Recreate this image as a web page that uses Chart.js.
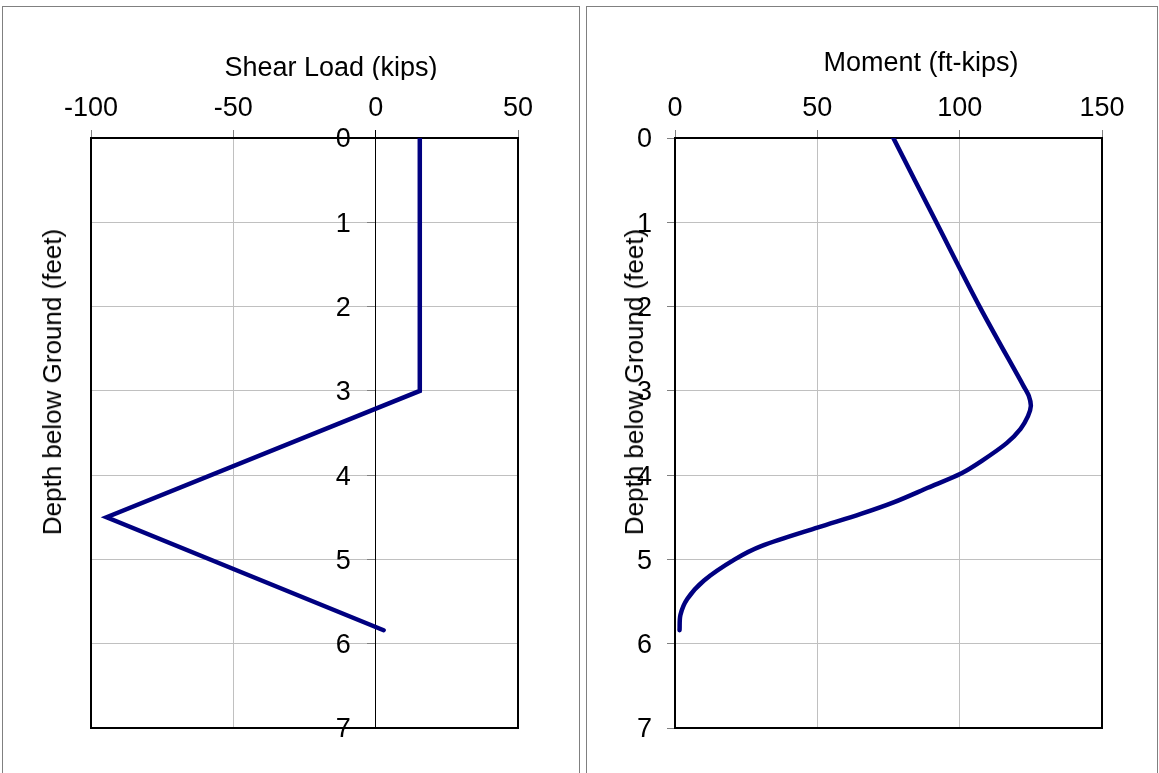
<!DOCTYPE html>
<html>
<head>
<meta charset="utf-8">
<title>Shear and moment versus depth</title>
<script src="https://cdn.jsdelivr.net/npm/chart.js@4.4.1/dist/chart.umd.min.js"></script>
<style>
  html, body { margin: 0; padding: 0; background: #fff; }
  body { width: 1159px; height: 773px; position: relative; overflow: hidden;
         font-family: 'Liberation Sans', Arial, Helvetica, sans-serif; }
  .panel { position: absolute; top: 6px; height: 800px; box-sizing: border-box;
           border: 1px solid #808080; border-bottom: none; }
  .chart-box { position: absolute; top: 0; height: 773px; }
  .cap { position: absolute; font-size: 27px; line-height: 27px; white-space: nowrap; color: #000; }
  .cap.h { text-align: center; overflow: hidden; }
  .cap.v { font-size: 26px; line-height: 26px; transform: translate(-50%, -50%) rotate(-90deg); }
</style>
</head>
<body>
<div class="panel" style="left:2px;width:578px"></div>
<div class="panel" style="left:586px;width:572px"></div>

<div class="chart-box" style="left:0;width:580px"><canvas id="shearChart"></canvas></div>
<div class="chart-box" style="left:580px;width:579px"><canvas id="momentChart"></canvas></div>

<div class="cap h" style="left:191px;top:54px;width:280px;height:26px">Shear Load (kips)</div>
<div class="cap v" style="left:52px;top:382px">Depth below Ground (feet)</div>
<div class="cap h" style="left:781px;top:49px;width:280px;height:30px">Moment (ft-kips)</div>
<div class="cap v" style="left:634px;top:382px">Depth below Ground (feet)</div>

<script>
// Depth axis (feet below ground), shared by both profiles
const depthTicks = [0, 1, 2, 3, 4, 5, 6, 7];

// Shear load profile
const shearTicks = [-100, -50, 0, 50];
const shearDepth = [0, 3.0, 4.5, 5.84];
const shearLoad  = [15.5, 15.5, -94.5, 2.8];

// Bending moment profile
const momentTicks = [0, 50, 100, 150];
const momentDepth = [0, 1, 2, 2.94, 3.06, 3.18, 3.30, 3.45, 3.62, 3.83, 3.98,
                     4.15, 4.32, 4.46, 4.62, 4.84, 5.00, 5.25, 5.47, 5.66, 5.84];
const momentValue = [76.7, 91.8, 107.0, 122.4, 124.3, 125.0, 124.0, 121.4, 116.5, 107.8, 100.5,
                     88.8, 77.0, 65.3, 50.3, 30.5, 21.0, 10.2, 4.3, 1.9, 1.6];

const FONT = "'Liberation Sans', Arial, Helvetica, sans-serif";
const GRID_COLOR = '#c0c0c0';
const TICK_COLOR = '#808080';
const LINE_COLOR = '#000080';
const TICK_LEN = 8;

// Heavy black frame round the plotting area
const plotFrame = {
  id: 'plotFrame',
  beforeDatasetsDraw(chart) {
    const { ctx, chartArea: a } = chart;
    ctx.save();
    ctx.strokeStyle = '#000';
    ctx.lineWidth = 2;
    ctx.strokeRect(a.left, a.top, a.right - a.left, a.bottom - a.top);
    ctx.restore();
  }
};

function fixedTicks(values) {
  return scale => { scale.ticks = values.map(v => ({ value: v })); };
}

// A depth axis pinned at x = 0 puts its labels right on the axis line;
// move them left by the tick length plus padding, like an edge axis.
function offsetDepthLabels(gap, drop) {
  return scale => {
    if (scale._labelsShifted || typeof scale._computeLabelItems !== 'function') return;
    const compute = scale._computeLabelItems.bind(scale);
    scale._computeLabelItems = area => compute(area).map(item => {
      if (item.options && item.options.translation) {
        item.options.translation[0] -= gap;
        item.options.translation[1] += drop;
      }
      return item;
    });
    scale._labelsShifted = true;
  };
}

function buildProfile(canvasId, xs, ys, cfg) {
  const points = ys.map((d, i) => ({ x: xs[i], y: d }));
  return new Chart(document.getElementById(canvasId), {
    type: 'scatter',
    data: {
      datasets: [{
        data: points,
        showLine: true,
        borderColor: LINE_COLOR,
        borderWidth: 4.5,
        borderCapStyle: 'round',
        borderJoinStyle: 'miter',
        tension: cfg.tension,
        pointRadius: 0,
        pointHoverRadius: 0,
        fill: false
      }]
    },
    options: {
      responsive: true,
      maintainAspectRatio: false,
      animation: false,
      events: [],
      layout: { padding: cfg.padding },
      plugins: { legend: { display: false }, tooltip: { enabled: false } },
      scales: {
        x: {
          type: 'linear',
          position: 'top',
          min: cfg.xMin,
          max: cfg.xMax,
          afterBuildTicks: fixedTicks(cfg.xTicks),
          afterFit: s => { s.height = cfg.axisHeight; s.paddingLeft = 0; s.paddingRight = 0; },
          border: { display: false },
          grid: {
            color: c => (cfg.zeroLine && c.tick && c.tick.value === 0) ? '#000' : GRID_COLOR,
            tickColor: c => (cfg.zeroLine && c.tick && c.tick.value === 0) ? '#000' : TICK_COLOR,
            lineWidth: 1,
            tickLength: TICK_LEN
          },
          ticks: { color: '#000', padding: 5, maxRotation: 0,
                   font: { family: FONT, size: 27 } }
        },
        y: {
          type: 'linear',
          reverse: true,
          position: { x: 0 },
          min: 0,
          max: 7,
          afterBuildTicks: fixedTicks(depthTicks),
          afterFit: s => { s.paddingTop = 0; s.paddingBottom = 0; },
          afterUpdate: offsetDepthLabels(TICK_LEN + cfg.labelPad, 2),
          border: { display: cfg.zeroLine, color: '#000', width: 1 },
          grid: { color: GRID_COLOR, tickColor: TICK_COLOR, lineWidth: 1, tickLength: TICK_LEN },
          ticks: { color: '#000', padding: cfg.labelPad,
                   font: { family: FONT, size: 27 } }
        }
      }
    },
    plugins: [plotFrame]
  });
}

buildProfile('shearChart', shearLoad, shearDepth, {
  xMin: -100, xMax: 50, xTicks: shearTicks,
  padding: { left: 91, right: 62, top: 0, bottom: 45 },
  axisHeight: 138, labelPad: 17, zeroLine: true, tension: 0
});

buildProfile('momentChart', momentValue, momentDepth, {
  xMin: 0, xMax: 150, xTicks: momentTicks,
  padding: { left: 95, right: 57, top: 0, bottom: 45 },
  axisHeight: 138, labelPad: 15, zeroLine: false, tension: 0.3
});
</script>
</body>
</html>
